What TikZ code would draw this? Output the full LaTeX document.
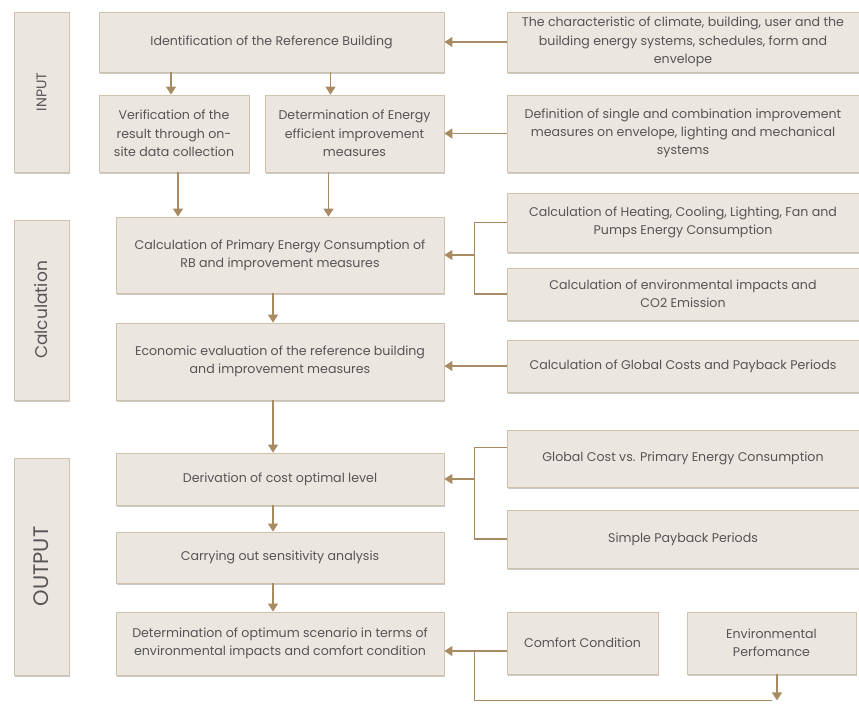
\documentclass[tikz,border=0pt]{standalone}
\usepackage{fontspec}
\setmainfont{Poppins}
\usetikzlibrary{arrows.meta,shadows,calc}
\definecolor{boxfill}{HTML}{ECE6E1}
\definecolor{boxline}{HTML}{D2C1AB}
\definecolor{conn}{HTML}{A88B63}
\definecolor{txt}{HTML}{555555}
\tikzset{
  box/.style={draw=boxline, line width=0.8pt, fill=boxfill, text=txt,
    align=center, inner sep=2pt, anchor=center,
    font=\fontsize{12.6}{18.3}\selectfont,
    drop shadow={shadow xshift=1.2pt, shadow yshift=-1.6pt, opacity=0.35, fill=black!60}},
  stage/.style={box, rotate=90},
  arr/.style={draw=conn, line width=1.3pt, -{Triangle[width=10pt,length=8pt]}},
  ln/.style={draw=conn, line width=1.3pt},
}
\begin{document}
\begin{tikzpicture}[x=1pt,y=-1pt]
\useasboundingbox (0,0) rectangle (859,706);

% stage labels on the left
\node[stage, minimum width=160pt, minimum height=55pt, font=\fontsize{14}{16}\selectfont] (sin) at (41.5,92) {INPUT};
\node[stage, minimum width=180pt, minimum height=55pt, font=\fontsize{17}{19}\selectfont] (scalc) at (41.5,310) {Calculation};
\node[stage, minimum width=217pt, minimum height=55pt, font=\fontsize{21}{23}\selectfont] (sout) at (41.5,566.5) {OUTPUT};

% main column
\node[box, minimum width=345pt, minimum height=60pt] (ident) at (271.5,42) {Identification of the Reference Building};
\node[box, minimum width=150pt, minimum height=77pt] (verif) at (174,133.5) {Verification of the\\result through on-\\site data collection};
\node[box, minimum width=179pt, minimum height=77pt] (dete) at (354.5,133.5) {Determination of Energy\\efficient improvement\\measures};
\node[box, minimum width=328pt, minimum height=76pt] (pec) at (280,255) {Calculation of Primary Energy Consumption of\\RB and improvement measures};
\node[box, minimum width=328pt, minimum height=77pt] (econ) at (280,361.5) {Economic evaluation of the reference building\\and improvement measures};
\node[box, minimum width=328pt, minimum height=52pt] (deriv) at (280,479) {Derivation of cost optimal level};
\node[box, minimum width=328pt, minimum height=51pt] (carry) at (280,557.5) {Carrying out sensitivity analysis};
\node[box, minimum width=328pt, minimum height=63pt] (optim) at (280,643.5) {Determination of optimum scenario in terms of\\environmental impacts and comfort condition};

% right column
\node[box, minimum width=352pt, minimum height=60pt] (charac) at (683,42) {The characteristic of climate, building, user and the\\building energy systems, schedules, form and\\envelope};
\node[box, minimum width=352pt, minimum height=77pt] (defin) at (683,133.5) {Definition of single and combination improvement\\measures on envelope, lighting and mechanical\\systems};
\node[box, minimum width=352pt, minimum height=59pt] (heat) at (683,222.5) {Calculation of Heating, Cooling, Lighting, Fan and\\Pumps Energy Consumption};
\node[box, minimum width=352pt, minimum height=52pt] (envimp) at (683,294) {Calculation of environmental impacts and\\CO2 Emission};
\node[box, minimum width=352pt, minimum height=52pt] (gcost) at (683,366) {Calculation of Global Costs and Payback Periods};
\node[box, minimum width=352pt, minimum height=57pt] (gcvs) at (683,458.5) {Global Cost vs. Primary Energy Consumption};
\node[box, minimum width=352pt, minimum height=58pt] (spp) at (683,539) {Simple Payback Periods};
\node[box, minimum width=151pt, minimum height=62pt] (comfort) at (582.5,643) {Comfort Condition};
\node[box, minimum width=169pt, minimum height=62pt] (envperf) at (771.5,643) {Environmental\\Perfomance};

% helper points of the bracket connectors
\coordinate (jcalc) at ($(heat.west)+(-32pt,0)$);
\coordinate (low) at ($(optim.south)+(0,-25pt)$);
\coordinate (cw) at ($(comfort.west)+(0,-8pt)$);

% input stage
\draw[arr] (charac.west) -- (ident.east);
\draw[arr] (defin.west) -- (dete.east);
\draw[arr] ([xshift=-3pt]verif.north |- ident.south) -- ([xshift=-3pt]verif.north);
\draw[arr] ([xshift=-24pt]dete.north |- ident.south) -- ([xshift=-24pt]dete.north);
\draw[arr] ([xshift=4pt]verif.south) -- ([xshift=4pt]verif.south |- pec.north);
\draw[arr] ([xshift=-26pt]dete.south) -- ([xshift=-26pt]dete.south |- pec.north);

% calculation stage
\draw[ln] (heat.west) -| (jcalc |- envimp.west) -- (envimp.west);
\draw[arr] (jcalc |- pec.east) -- (pec.east);
\draw[arr] ([xshift=-7pt]pec.south) -- ([xshift=-7pt]econ.north);
\draw[arr] (gcost.west) -- (econ.east |- gcost.west);
\draw[arr] ([xshift=-7pt]econ.south) -- ([xshift=-7pt]deriv.north);

% output stage
\draw[ln] ([yshift=11pt]gcvs.west) -| (jcalc |- spp.west) -- (spp.west);
\draw[arr] (jcalc |- deriv.east) -- (deriv.east);
\draw[arr] ([xshift=-7pt]deriv.south) -- ([xshift=-7pt]carry.north);
\draw[arr] ([xshift=-7pt]carry.south) -- ([xshift=-7pt]optim.north);
\draw[arr] (cw) -- (optim.east |- cw);
\draw[ln] (jcalc |- cw) |- (envperf.south |- low);
\draw[arr] ([xshift=5.5pt]envperf.south) -- ([xshift=5.5pt]envperf.south |- low);
\end{tikzpicture}
\end{document}
